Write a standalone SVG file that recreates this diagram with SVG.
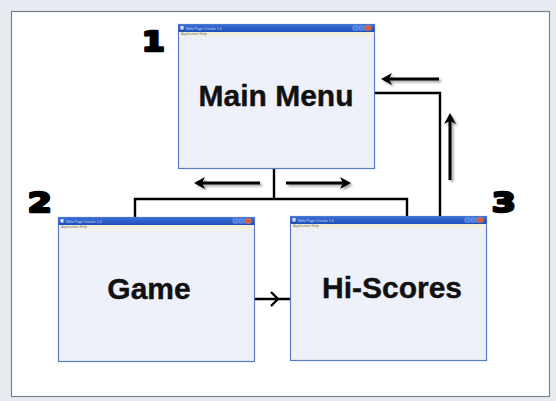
<svg xmlns="http://www.w3.org/2000/svg" width="556" height="401" viewBox="0 0 556 401">
  <defs>
    <linearGradient id="titlebar" x1="0" y1="0" x2="0" y2="1">
      <stop offset="0" stop-color="#3a6fd8"/>
      <stop offset="1" stop-color="#1f4fb8"/>
    </linearGradient>
    <filter id="shadow" x="-20%" y="-50%" width="140%" height="200%">
      <feGaussianBlur in="SourceAlpha" stdDeviation="1.2"/>
      <feOffset dx="1.5" dy="2" result="b"/>
      <feComponentTransfer><feFuncA type="linear" slope="0.35"/></feComponentTransfer>
      <feMerge><feMergeNode/><feMergeNode in="SourceGraphic"/></feMerge>
    </filter>
    <!-- window chrome shared by all three screens, 196 x 144 -->
    <g id="win">
      <rect x="0.5" y="0.5" width="196" height="144" fill="#eef0fa" stroke="#5b7bc4" stroke-width="1.2"/>
      <rect x="0.5" y="0.5" width="196" height="7.5" fill="url(#titlebar)"/>
      <rect x="1" y="8" width="195" height="4" fill="#f3efdc"/>
      <rect x="2.5" y="2" width="3" height="3.5" fill="#dfe8ff"/>
      <text x="8" y="5.6" class="tiny" fill="#c9d6f5">Web Page Creator 1.0</text>
      <text x="3" y="11.3" class="tiny" fill="#777">Application    Help</text>
      <rect x="175" y="1.8" width="5" height="4.5" rx="0.8" fill="#4d7ee0" stroke="#a9c0f0" stroke-width="0.4"/>
      <rect x="181" y="1.8" width="5" height="4.5" rx="0.8" fill="#4d7ee0" stroke="#a9c0f0" stroke-width="0.4"/>
      <rect x="187" y="1.8" width="6" height="4.5" rx="0.8" fill="#e0562e" stroke="#f1a88e" stroke-width="0.4"/>
    </g>
  </defs>
  <style>
    .tiny { font-family: "Liberation Sans", Arial, sans-serif; font-size: 3.6px; }
    .label { font-family: "Liberation Sans", Arial, sans-serif; font-weight: bold; font-size: 30px; fill: #111; text-anchor: middle; stroke: #111; stroke-width: 0.4px; }
    .num { font-family: "DejaVu Sans", "Liberation Sans", sans-serif; font-weight: bold; font-size: 26px; fill: #000; stroke: #000; stroke-width: 2.6px; stroke-linejoin: round; }
    .link { fill: none; stroke: #000; stroke-width: 2.4px; }
    .arrow { fill: none; stroke: #000; stroke-width: 3px; }
    .head { fill: #000; }
  </style>

  <!-- page background and frame -->
  <rect x="0" y="0" width="556" height="401" fill="#e7ebf1"/>
  <rect x="11.5" y="11.5" width="538" height="385" fill="#ffffff" stroke="#7e838a" stroke-width="1.2"/>

  <!-- connectors -->
  <g id="connectors">
    <path class="link" d="M274 169 V199 M135 217 V199 H407 V217"/>
    <path class="link" d="M374 93 H440 V217"/>
    <path class="link" d="M255 299 H291"/>
    <path d="M271 292 L278 299 L271 306" fill="none" stroke="#000" stroke-width="2.4"/>

    <g filter="url(#shadow)">
      <!-- back to main menu: left arrow -->
      <path class="arrow" d="M439 79 H386"/>
      <path class="head" d="M381 79 L392 73 L389 79 L392 85 Z"/>
      <!-- up arrow -->
      <path class="arrow" d="M450 180 V118"/>
      <path class="head" d="M450 113 L444 124 L450 121 L456 124 Z"/>
      <!-- main menu to game -->
      <path class="arrow" d="M260 183 H199"/>
      <path class="head" d="M194 183 L205 177 L202 183 L205 189 Z"/>
      <!-- main menu to hi-scores -->
      <path class="arrow" d="M286 183 H346"/>
      <path class="head" d="M351 183 L340 177 L343 183 L340 189 Z"/>
    </g>
  </g>

  <!-- screens -->
  <g id="main-menu">
    <use href="#win" x="178" y="24"/>
    <text class="label" x="276" y="106">Main Menu</text>
    <text class="num" transform="translate(142 51) scale(1.25 1)">1</text>
  </g>
  <g id="game">
    <use href="#win" x="58" y="217"/>
    <text class="label" x="149" y="299">Game</text>
    <text class="num" transform="translate(28 212) scale(1.3 1)">2</text>
  </g>
  <g id="hi-scores">
    <use href="#win" x="290" y="216"/>
    <text class="label" x="392" y="298">Hi-Scores</text>
    <text class="num" transform="translate(492 212) scale(1.3 1)">3</text>
  </g>
</svg>
